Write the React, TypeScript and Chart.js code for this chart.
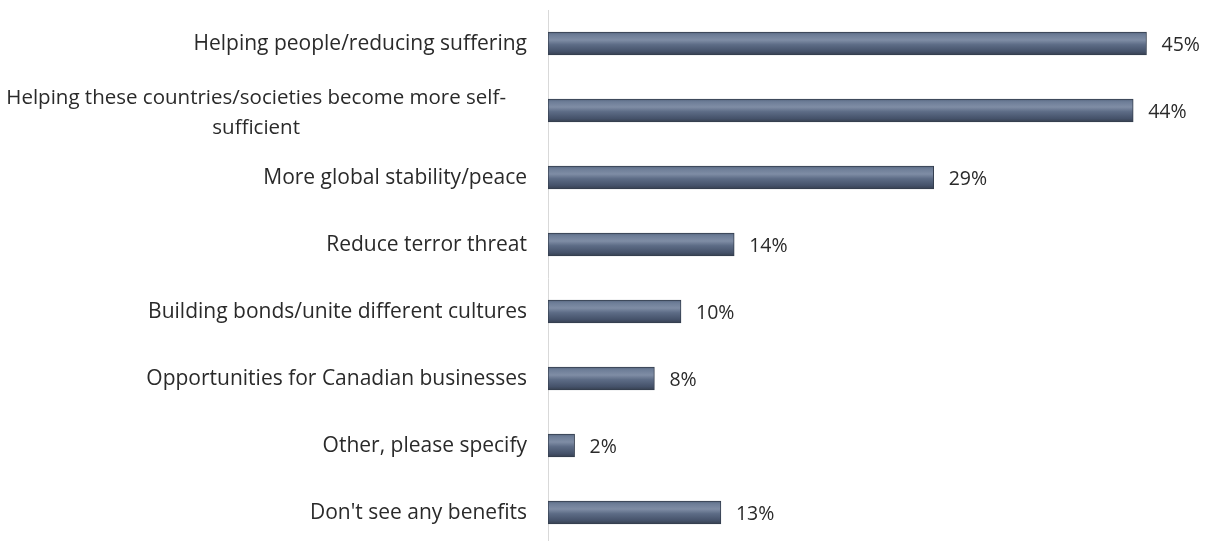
import React, { useEffect, useRef } from "react";
import { Chart, registerables } from "chart.js";

Chart.register(...registerables);

const categories: string[][] = [
  ["Helping people/reducing suffering"],
  ["Helping these countries/societies become more self-", "sufficient"],
  ["More global stability/peace"],
  ["Reduce terror threat"],
  ["Building bonds/unite different cultures"],
  ["Opportunities for Canadian businesses"],
  ["Other, please specify"],
  ["Don't see any benefits"],
];
const values: number[] = [45, 44, 29, 14, 10, 8, 2, 13];
const valueLabels: string[] = ["45%", "44%", "29%", "14%", "10%", "8%", "2%", "13%"];

const FONT = "'Open Sans', Lato, sans-serif";
const TEXT_COLOR = "#2a2a2a";

const W = 1210;
const H = 556;
const BAR_THICKNESS = 23;

function barGradient(context: any) {
  const chart = context.chart;
  const yScale = chart.scales && chart.scales.y;
  if (!yScale || context.dataIndex === undefined) return "#4d5b73";
  const cy = yScale.getPixelForValue(context.dataIndex);
  if (!Number.isFinite(cy)) return "#4d5b73";
  const top = cy - BAR_THICKNESS / 2;
  const g = chart.ctx.createLinearGradient(0, top, 0, top + BAR_THICKNESS);
  g.addColorStop(0, "#56667f");
  g.addColorStop(0.12, "#6d7d97");
  g.addColorStop(0.35, "#7f8da5");
  g.addColorStop(0.55, "#5d6c86");
  g.addColorStop(0.85, "#45526a");
  g.addColorStop(1, "#363f4f");
  return g;
}

const labelsPlugin = {
  id: "customLabels",
  afterDraw(chart: any) {
    const ctx = chart.ctx;
    const yScale = chart.scales.y;
    const area = chart.chartArea;
    ctx.save();
    ctx.fillStyle = TEXT_COLOR;
    ctx.textBaseline = "middle";
    const labelRight = area.left - 21;
    categories.forEach((lines, i) => {
      const cy = yScale.getPixelForValue(i) + 1;
      if (lines.length === 1) {
        ctx.font = `21px ${FONT}`;
        ctx.textAlign = "right";
        ctx.fillText(lines[0], labelRight, cy);
      } else {
        ctx.font = `20.5px ${FONT}`;
        const lh = 30;
        const maxW = Math.max(...lines.map((l) => ctx.measureText(l).width));
        const cx = labelRight - 21 - maxW / 2;
        ctx.textAlign = "center";
        lines.forEach((l, k) => {
          const yy = cy + 2 - ((lines.length - 1) * lh) / 2 + k * lh;
          ctx.fillText(l, cx, yy);
        });
      }
    });
    const meta = chart.getDatasetMeta(0);
    ctx.textAlign = "left";
    ctx.font = `19.5px ${FONT}`;
    meta.data.forEach((el: any, i: number) => {
      ctx.fillText(valueLabels[i], el.x + 15, el.y + 2);
    });
    ctx.restore();
  },
};

export default function App() {
  const ref = useRef<HTMLCanvasElement | null>(null);
  useEffect(() => {
    if (!ref.current) return;
    const chart = new Chart(ref.current, {
      type: "bar",
      data: {
        labels: categories.map((c) => c.join(" ")),
        datasets: [
          {
            data: values,
            backgroundColor: barGradient,
            borderColor: "#343e4e",
            borderWidth: 1,
            borderSkipped: false,
            barThickness: BAR_THICKNESS,
          },
        ],
      },
      options: {
        indexAxis: "y",
        responsive: false,
        animation: false,
        devicePixelRatio: 1,
        layout: { padding: { top: 10, bottom: 10, left: 0, right: 23.6 } },
        plugins: {
          legend: { display: false },
          tooltip: { enabled: false },
        },
        scales: {
          x: {
            display: false,
            min: 0,
            max: 48,
          },
          y: {
            display: true,
            grid: { display: false, drawTicks: false },
            border: { display: true, color: "#d9d9d9", width: 1 },
            ticks: { display: false },
            afterFit(scale: any) {
              scale.width = 548;
            },
          },
        },
      },
      plugins: [labelsPlugin],
    });
    return () => chart.destroy();
  }, []);
  return (
    <div
      style={{
        position: "fixed",
        left: 0,
        top: 0,
        width: W,
        height: 541,
        overflow: "hidden",
        background: "#ffffff",
      }}
    >
      <canvas ref={ref} width={W} height={H} style={{ display: "block" }} />
    </div>
  );
}
